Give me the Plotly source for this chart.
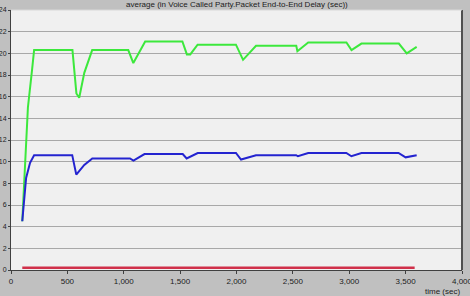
import plotly.graph_objects as go

# Green series (upper)
green_t = [100, 125, 150, 187, 205, 545, 580, 605, 650, 720, 1040, 1085, 1190, 1520, 1560, 1590, 1655,
           1995, 2058, 2173, 2530, 2540, 2636, 2975, 3020, 3108, 3440, 3510, 3598]
green_v = [4.5, 10.2, 15.0, 18.5, 20.3, 20.3, 16.3, 15.9, 18.2, 20.3, 20.3, 19.1, 21.1, 21.1, 19.9, 19.9, 20.8,
           20.8, 19.4, 20.7, 20.7, 20.2, 21.0, 21.0, 20.3, 20.9, 20.9, 20.0, 20.6]

# Blue series (middle)
blue_t = [100, 134, 169, 205, 543, 579, 650, 721, 1055, 1086, 1184, 1523, 1558, 1656,
          1995, 2040, 2173, 2529, 2545, 2636, 2974, 3019, 3108, 3437, 3500, 3598]
blue_v = [4.5, 8.5, 9.9, 10.6, 10.6, 8.8, 9.7, 10.3, 10.3, 10.1, 10.7, 10.7, 10.3, 10.8,
          10.8, 10.2, 10.6, 10.6, 10.5, 10.8, 10.8, 10.5, 10.8, 10.8, 10.4, 10.6]

# Red series (bottom)
red_t = [100, 3580]
red_v = [0.2, 0.2]

x_ticks = [0, 500, 1000, 1500, 2000, 2500, 3000, 3500, 4000]
x_tick_labels = ["0", "500", "1,000", "1,500", "2,000", "2,500", "3,000", "3,500", "4,000"]
y_ticks = list(range(0, 25, 2))

title_text = "average (in Voice Called Party.Packet End-to-End Delay (sec))"
x_title = "time (sec)"

fig = go.Figure()
fig.add_trace(go.Scatter(x=green_t, y=green_v, mode="lines",
                         line=dict(color="#3ce83c", width=2), showlegend=False))
fig.add_trace(go.Scatter(x=blue_t, y=blue_v, mode="lines",
                         line=dict(color="#2424d0", width=2), showlegend=False))
fig.add_trace(go.Scatter(x=red_t, y=red_v, mode="lines",
                         line=dict(color="#d0304a", width=2.5), showlegend=False))

font = dict(family="Liberation Sans, Arial, sans-serif", size=8, color="#202020")
yfont = dict(family="Liberation Sans, Arial, sans-serif", size=7, color="#202020")

fig.update_layout(
    width=470, height=296,
    margin=dict(l=11, r=8, t=10, b=26),
    paper_bgcolor="#c0c0c0",
    plot_bgcolor="#f0f0f0",
    font=font,
    xaxis=dict(range=[0, 4000], tickvals=x_ticks, ticktext=x_tick_labels, automargin=False,
               ticklabeloverflow="allow",
               showgrid=False, zeroline=False, showline=True, linecolor="#404040", linewidth=1,
               ticks="outside", ticklen=3, tickcolor="#404040", tickfont=font, fixedrange=True),
    yaxis=dict(range=[0, 24], tickvals=y_ticks, showgrid=True, gridcolor="#a8a8a8", gridwidth=1,
               automargin=False, ticklabelstandoff=0, ticklabeloverflow="allow",
               zeroline=False, showline=True, linecolor="#404040", linewidth=1,
               ticks="outside", ticklen=2, tickcolor="#404040", tickfont=yfont, fixedrange=True),
    annotations=[
        dict(text=title_text, xref="paper", yref="paper", x=0.5, y=1.021, xanchor="center",
             yanchor="middle", showarrow=False, font=font),
        dict(text=x_title, xref="paper", yref="paper", x=1.0, y=-0.081, xanchor="right",
             yanchor="middle", showarrow=False, font=font),
    ],
    shapes=[
        dict(type="line", xref="paper", yref="paper", x0=1, x1=1, y0=0, y1=1,
             line=dict(color="#505050", width=2)),
        dict(type="line", xref="paper", yref="paper", x0=0, x1=1, y0=1, y1=1,
             line=dict(color="#d8d8d8", width=1)),
    ],
)

fig.write_html("out.html", config={"displayModeBar": False},
               post_script="document.body.style.margin='0';document.body.style.overflow='hidden';")
